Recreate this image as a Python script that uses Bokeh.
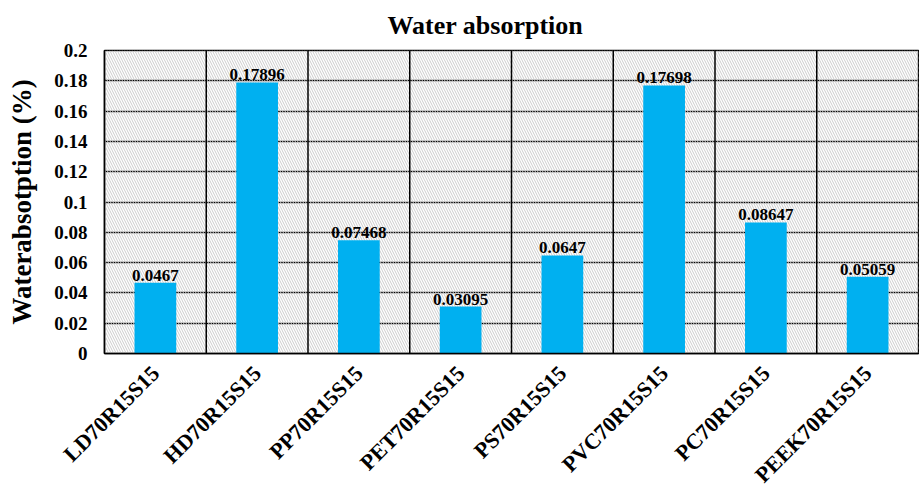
import math
from bokeh.plotting import figure
from bokeh.models import ColumnDataSource, BoxAnnotation, Span, FixedTicker, LabelSet, Title
from bokeh.embed import file_html
from bokeh.resources import INLINE

categories = ["LD70R15S15", "HD70R15S15", "PP70R15S15", "PET70R15S15",
              "PS70R15S15", "PVC70R15S15", "PC70R15S15", "PEEK70R15S15"]
absorption = [0.0467, 0.17896, 0.07468, 0.03095, 0.0647, 0.17698, 0.08647, 0.05059]
value_labels = ["0.0467", "0.17896", "0.07468", "0.03095", "0.0647", "0.17698", "0.08647", "0.05059"]
y_ticks = [0, 0.02, 0.04, 0.06, 0.08, 0.1, 0.12, 0.14, 0.16, 0.18, 0.2]

FONT = "Liberation Serif"

source = ColumnDataSource(dict(cat=categories, val=absorption, lab=value_labels))

p = figure(x_range=categories, y_range=(0, 0.2),
           frame_width=814, frame_height=303,
           output_backend="svg", toolbar_location=None,
           min_border_left=104, min_border_right=1, min_border_top=50, min_border_bottom=137)
p.x_range.range_padding = 0

p.title = Title(text="Water absorption", align="left", offset=283, standoff=18,
                vertical_align="top",
                text_font=FONT, text_font_size="26px", text_font_style="bold",
                text_color="black")

# hatched plot background
p.background_fill_color = "white"
p.add_layout(BoxAnnotation(fill_alpha=0, line_alpha=0, hatch_pattern="\\",
                           hatch_color="#cccccc", hatch_scale=5, hatch_weight=1,
                           level="underlay"))

p.outline_line_color = "black"
p.outline_line_width = 1.5

# grid
p.xgrid.grid_line_color = None
p.ygrid.ticker = FixedTicker(ticks=y_ticks)
p.ygrid.grid_line_color = "black"
p.ygrid.grid_line_width = 1.5
for i in range(1, len(categories)):
    p.add_layout(Span(location=i, dimension="height", line_color="black",
                      line_width=1.5, level="underlay"))

p.vbar(x="cat", top="val", width=0.41, source=source, color="#00B0F0", line_color=None)

p.add_layout(LabelSet(x="cat", y="val", text="lab", source=source, text_align="center",
                      text_baseline="bottom", y_offset=2, text_font=FONT,
                      text_font_size="17px", text_font_style="bold", text_color="black"))

# axes
p.yaxis.ticker = FixedTicker(ticks=y_ticks)
p.yaxis.major_label_overrides = {t: ("0" if t == 0 else f"{t:g}") for t in y_ticks}
p.yaxis.axis_label = "Waterabsotption (%)"
p.yaxis.axis_label_text_font = FONT
p.yaxis.axis_label_text_font_size = "27px"
p.yaxis.axis_label_text_font_style = "bold"
p.yaxis.axis_label_text_color = "black"
p.yaxis.axis_label_standoff = 14
for ax in (p.xaxis, p.yaxis):
    ax.major_tick_line_color = None
    ax.minor_tick_line_color = None
    ax.major_tick_out = 0
    ax.major_tick_in = 0
    ax.axis_line_color = "black"
    ax.axis_line_width = 1.5
    ax.major_label_text_font = FONT
    ax.major_label_text_font_style = "bold"
    ax.major_label_text_color = "black"
p.yaxis.major_label_text_font_size = "19px"
p.xaxis.major_label_text_font_size = "22px"
p.yaxis.major_label_standoff = 17
p.xaxis.major_label_orientation = math.pi / 4
p.xaxis.major_label_standoff = 16

open("out.html", "w").write(file_html(p, INLINE))
